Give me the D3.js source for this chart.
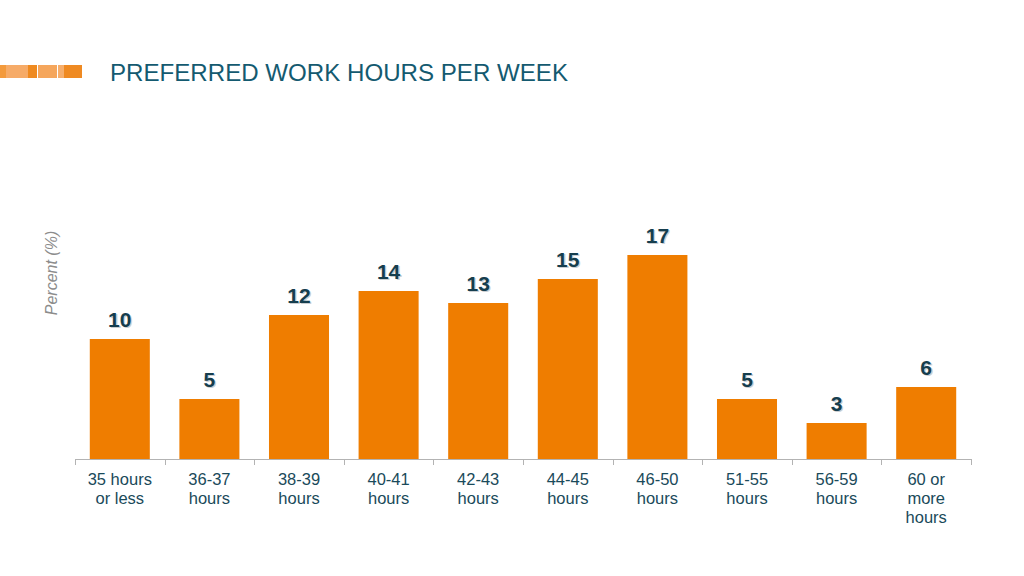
<!DOCTYPE html>
<html><head><meta charset="utf-8">
<script src="https://cdn.jsdelivr.net/npm/d3@7"></script>
<style>body{margin:0;background:#fff}svg{display:block}</style>
</head><body>
<svg id="c" width="1024" height="576"></svg>
<script>
const categories = [["35 hours","or less"],["36-37","hours"],["38-39","hours"],["40-41","hours"],["42-43","hours"],["44-45","hours"],["46-50","hours"],["51-55","hours"],["56-59","hours"],["60 or","more","hours"]];
const values = [10,5,12,14,13,15,17,5,3,6];
const title = "PREFERRED WORK HOURS PER WEEK";
const yTitle = "Percent (%)";
const decoSegments = [
  {x0:0,x1:6,c:"#f39a3c"},{x0:6,x1:28,c:"#f6ab68"},{x0:28,x1:37,c:"#ef8a20"},
  {x0:38,x1:57,c:"#f5a65c"},{x0:58,x1:64,c:"#f6ae6c"},{x0:64,x1:82,c:"#ef8a22"}
];

const svg = d3.select("#c");
const x = d3.scaleBand().domain(d3.range(values.length)).range([75,971]).paddingInner(0.33).paddingOuter(0.165);
const y = d3.scaleLinear().domain([0,20]).range([459,219]);

svg.append("g").selectAll("rect").data(decoSegments).join("rect")
  .attr("x",d=>d.x0).attr("width",d=>d.x1-d.x0).attr("y",65).attr("height",13).attr("fill",d=>d.c);

svg.append("text").attr("x",110).attr("y",81).text(title)
  .attr("font-family","Liberation Sans, Arial, sans-serif").attr("font-size",24).attr("fill","#145a70")
  .attr("textLength",458).attr("lengthAdjust","spacingAndGlyphs");

svg.append("text").attr("transform","translate(57,273) rotate(-90)").attr("text-anchor","middle")
  .text(yTitle).attr("font-family","Liberation Sans, Arial, sans-serif").attr("font-style","italic")
  .attr("font-size",16).attr("fill","#8c8c8c");

svg.append("g").selectAll("rect").data(values).join("rect")
  .attr("x",(d,i)=>x(i)).attr("width",x.bandwidth())
  .attr("y",d=>y(d)).attr("height",d=>y(0)-y(d)).attr("fill","#ef7d00");

const step = x.step();
const ax = svg.append("g");
ax.append("line").attr("x1",75).attr("x2",971).attr("y1",459.5).attr("y2",459.5).attr("stroke","#b3b3b3");
const tickXs = d3.range(values.length+1).map(i=>x(0)-x.step()*x.paddingOuter()+i*step);
ax.selectAll("line.t").data(tickXs).join("line").attr("class","t")
  .attr("x1",d=>Math.round(d)+0.5).attr("x2",d=>Math.round(d)+0.5).attr("y1",459).attr("y2",465).attr("stroke","#b3b3b3");

const lab = svg.append("g").attr("font-family","Liberation Sans, Arial, sans-serif").attr("font-size",16.5).attr("fill","#1a4a5a").attr("text-anchor","middle");
categories.forEach((lines,i)=>{
  const t = lab.append("text").attr("x",x(i)+x.bandwidth()/2).attr("y",485);
  lines.forEach((l,j)=>t.append("tspan").attr("x",x(i)+x.bandwidth()/2).attr("dy",j?19.2:0).text(l));
});

const vl = svg.append("g").attr("font-family","Liberation Sans, Arial, sans-serif").attr("font-size",21).attr("font-weight","bold").attr("text-anchor","middle");
vl.selectAll("text.s").data(values).join("text").attr("class","s")
  .attr("x",(d,i)=>x(i)+x.bandwidth()/2+1.3).attr("y",d=>y(d)-12+1.3).attr("fill","#c9ced2").text(d=>d);
vl.selectAll("text.v").data(values).join("text").attr("class","v")
  .attr("x",(d,i)=>x(i)+x.bandwidth()/2).attr("y",d=>y(d)-12).attr("fill","#163e4e").text(d=>d);
</script>
</body></html>
